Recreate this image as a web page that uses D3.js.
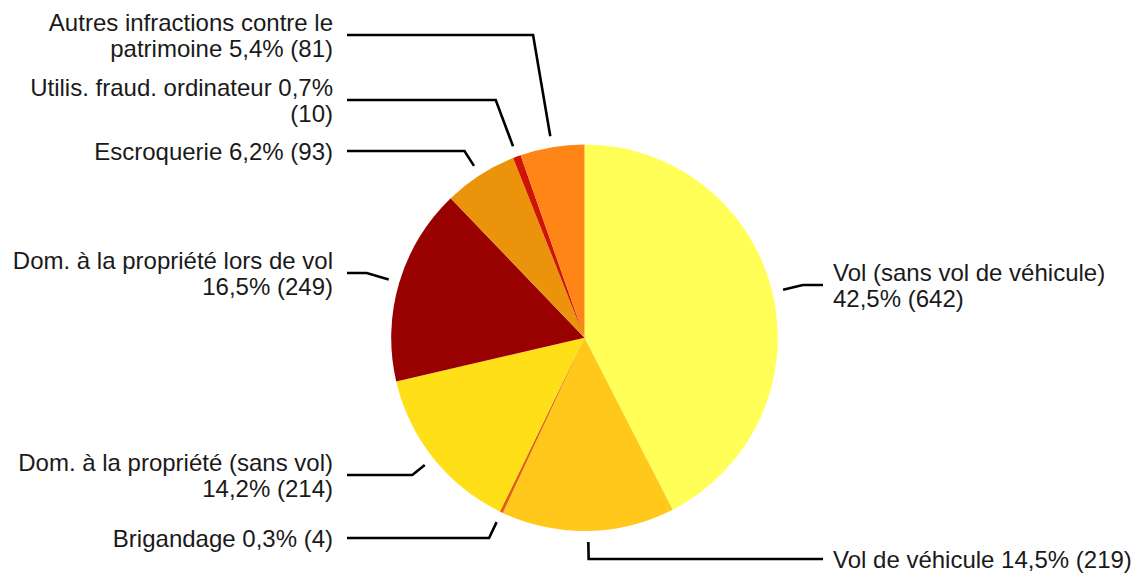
<!DOCTYPE html>
<html>
<head>
<meta charset="utf-8">
<script src="https://cdn.jsdelivr.net/npm/d3@7"></script>
<style>
  html, body { margin: 0; padding: 0; background: #fff; }
  svg text { font-family: "Liberation Sans", Arial, sans-serif; fill: #1a1a1a; }
</style>
</head>
<body>
<svg id="chart" width="1140" height="575"></svg>
<script>
// ---- data ----
const categories = [
  "Vol (sans vol de véhicule)",
  "Vol de véhicule",
  "Brigandage",
  "Dom. à la propriété (sans vol)",
  "Dom. à la propriété lors de vol",
  "Escroquerie",
  "Utilis. fraud. ordinateur",
  "Autres infractions contre le patrimoine"
];
const values = [642, 219, 4, 214, 249, 93, 10, 81];
const percentLabels = ["42,5%", "14,5%", "0,3%", "14,2%", "16,5%", "6,2%", "0,7%", "5,4%"];
const colors = ["#ffff57", "#ffc81a", "#e0600e", "#ffdf18", "#990000", "#eb940b", "#cf1405", "#ff8616"];

// label text lines (as displayed)
const labelLines = [
  ["Vol (sans vol de véhicule)", "42,5% (642)"],
  ["Vol de véhicule 14,5% (219)"],
  ["Brigandage 0,3% (4)"],
  ["Dom. à la propriété (sans vol)", "14,2% (214)"],
  ["Dom. à la propriété lors de vol", "16,5% (249)"],
  ["Escroquerie 6,2% (93)"],
  ["Utilis. fraud. ordinateur 0,7%", "(10)"],
  ["Autres infractions contre le", "patrimoine 5,4% (81)"]
];

// ---- layout ----
const cx = 584.5, cy = 337.7, R = 193.3;
const leaderStart = R + 11;
const labelY = [285, 559, 538, 475, 273, 151, 100, 35]; // y of horizontal leader segment
const side = ["right", "right", "left", "left", "left", "left", "left", "left"];
const leftLineEnd = 347, rightLineEnd = 823;
const leftTextX = 333, rightTextX = 833;
const fontSize = 24, lineH = 26;

const svg = d3.select("#chart");
const g = svg.append("g").attr("transform", `translate(${cx},${cy})`);

const pie = d3.pie().sort(null).value(d => d)(values);
const arc = d3.arc().innerRadius(0).outerRadius(R);

g.selectAll("path.slice")
  .data(pie)
  .join("path")
  .attr("class", "slice")
  .attr("d", arc)
  .attr("fill", (d, i) => colors[i]);

// leaders
pie.forEach((d, i) => {
  const a = (d.startAngle + d.endAngle) / 2;
  const sx = Math.sin(a) * leaderStart, sy = -Math.cos(a) * leaderStart;
  const ly = labelY[i] - cy;
  const t = -ly / Math.cos(a);
  const ex = Math.sin(a) * t;
  const endX = (side[i] === "left" ? leftLineEnd : rightLineEnd) - cx;
  g.append("path")
    .attr("d", d3.line()([[sx, sy], [ex, ly], [endX, ly]]))
    .attr("fill", "none")
    .attr("stroke", "#000")
    .attr("stroke-width", 2.6)
    .attr("stroke-linejoin", "miter");

  const lines = labelLines[i];
  const n = lines.length;
  const text = svg.append("text")
    .attr("font-size", fontSize)
    .attr("text-anchor", side[i] === "left" ? "end" : "start");
  lines.forEach((s, k) => {
    const yc = labelY[i] + (k - (n - 1) / 2) * lineH;
    text.append("tspan")
      .attr("x", side[i] === "left" ? leftTextX : rightTextX)
      .attr("y", yc + fontSize * 0.36)
      .text(s);
  });
});
</script>
</body>
</html>
